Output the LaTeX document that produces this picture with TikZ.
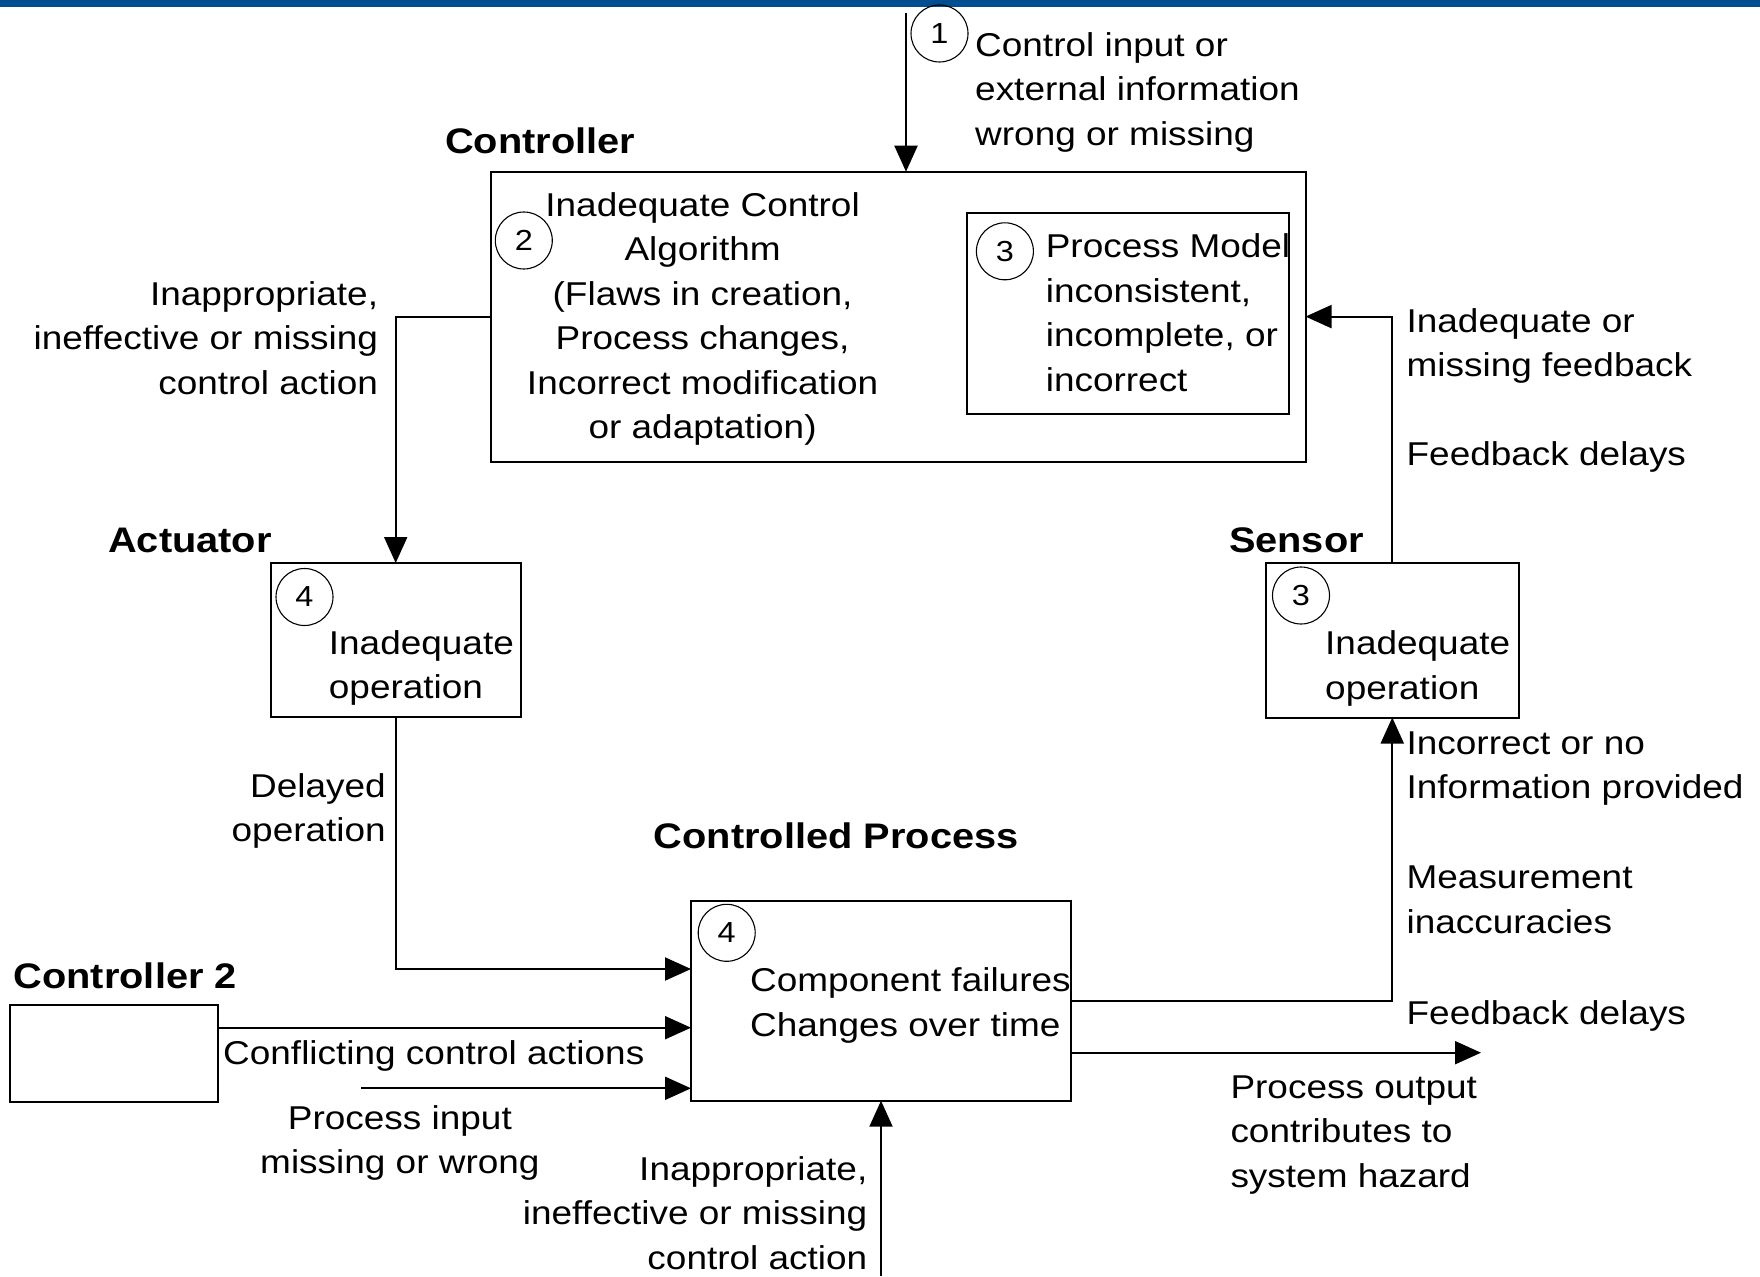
\documentclass[tikz,border=0pt]{standalone}
\usepackage{fontspec}
\setmainfont{Liberation Sans}[FakeStretch=1.12]
\usetikzlibrary{arrows.meta}
\definecolor{barblue}{RGB}{0,78,146}
\newcommand\bodyfont{\fontsize{33}{44.5}\selectfont}
\newcommand\headfont{\fontsize{35.5}{42}\selectfont\bfseries}
\newcommand\numfont{\fontsize{29}{34}\selectfont}

\begin{document}
\begin{tikzpicture}[x=1pt,y=-1pt,
  box/.style={draw, line width=2pt, inner sep=0pt, outer sep=0pt},
  num/.style={draw, circle, line width=1.1pt, minimum size=57pt, inner sep=0pt, font=\numfont},
  lbl/.style={font=\bodyfont, inner sep=0pt},
  head/.style={font=\headfont, inner sep=0pt, anchor=base},
  flow/.style={line width=2pt, -{Triangle[length=26pt,width=23pt]}}]
\useasboundingbox (0,0) rectangle (1760,1276);
\fill[barblue] (0,0) rectangle (1760,7);

% boxes
\node[box, minimum width=815pt, minimum height=289.8pt, anchor=north west] (ctrl) at (490.5,171.7) {};
\node[box, minimum width=321.5pt, minimum height=200.7pt, anchor=north west] (pm) at (967,213.3) {};
\node[box, minimum width=250pt, minimum height=154pt, anchor=north west] (act) at (270.7,563) {};
\node[box, minimum width=252.5pt, minimum height=155pt, anchor=north west] (sens) at (1266,562.5) {};
\node[box, minimum width=380pt, minimum height=200pt, anchor=north west] (proc) at (691,900.7) {};
\node[box, minimum width=207.5pt, minimum height=96.5pt, anchor=north west] (ctwo) at (10,1005) {};

% numbered markers
\node[num] (n1) at (939.5,33.5) {1};
\node[num] (n2) at (523.8,240.5) {2};
\node[num] (n3a) at (1004.9,251.3) {3};
\node[num] (n4a) at (304.5,597) {4};
\node[num] (n3b) at (1301,595.5) {3};
\node[num] (n4b) at (726.7,932.8) {4};

% titles
\node[head] (tctrl) at (540,154) {Controller};
\node[head] (tact) at (190,552.5) {Actuator};
\node[head] (tsens) at (1296.4,552.5) {Sensor};
\node[head] (tproc) at (836.2,848) {Controlled Process};
\node[head, anchor=base west] (tctwo) at (13.5,988.5) {Controller 2};

% texts inside boxes
\node[lbl, align=center, anchor=north] (algo) at (702.6,192)
  {Inadequate Control\\Algorithm\\(Flaws in creation,\\Process changes,\\Incorrect modification\\or adaptation)};
\node[lbl, align=left, anchor=north west] (pmtext) at (1045.6,233.5)
  {Process Model\\inconsistent,\\incomplete, or\\incorrect};
\node[lbl, align=left, anchor=north west] (acttext) at (328.7,630.3) {Inadequate\\operation};
\node[lbl, align=left, anchor=north west] (senstext) at (1325,630.5) {Inadequate\\operation};
\node[lbl, align=left, anchor=north west] (proctext) at (750,967.7) {Component failures\\Changes over time};

% connector labels
\node[lbl, align=left, anchor=north west] (lin) at (975,32)
  {Control input or\\external information\\wrong or missing};
\node[lbl, align=right, anchor=north east] (lca) at (378.3,281)
  {Inappropriate,\\ineffective or missing\\control action};
\node[lbl, align=left, anchor=north west] (lfb) at (1406.4,308) {Inadequate or\\missing feedback};
\node[lbl, anchor=base west] (lfd1) at (1406.4,465.5) {Feedback delays};
\node[lbl, align=right, anchor=north east] (ldel) at (386,773) {Delayed\\operation};
\node[lbl, align=left, anchor=north west] (linc) at (1406.4,731.5) {Incorrect or no\\Information provided};
\node[lbl, align=left, anchor=north west] (lmeas) at (1406.4,866) {Measurement\\inaccuracies};
\node[lbl, anchor=base west] (lfd2) at (1406.4,1024) {Feedback delays};
\node[lbl, align=left, anchor=north west] (lout) at (1230.3,1075.5)
  {Process output\\contributes to\\system hazard};
\node[lbl, anchor=base west] (lconf) at (223,1064.5) {Conflicting control actions};
\node[lbl, align=center, anchor=north] (lpin) at (399.9,1105) {Process input\\missing or wrong};
\node[lbl, align=right, anchor=north east] (lca2) at (867.5,1156)
  {Inappropriate,\\ineffective or missing\\control action};

% connectors
\coordinate (src1) at (906,13);
\draw[flow] (src1) -- (src1 |- ctrl.north);
\draw[flow] (ctrl.west) -| (act.north);
\draw[flow] (sens.north) |- (ctrl.east);
\coordinate (actin) at (0,969);
\draw[flow] (act.south) |- (proc.west |- actin);
\coordinate (confin) at (0,1027.7);
\draw[flow] (ctwo.east |- confin) -- (proc.west |- confin);
\coordinate (pin) at (361.3,1088.3);
\draw[flow] (pin) -- (proc.west |- pin);
\coordinate (cain) at (881,1276);
\draw[flow] (cain) -- (cain |- proc.south);
\coordinate (sensin) at (0,1000.8);
\draw[flow] (proc.east |- sensin) -| (sens.south);
\coordinate (out) at (1481,1052.7);
\draw[flow] (proc.east |- out) -- (out);
\end{tikzpicture}
\end{document}
